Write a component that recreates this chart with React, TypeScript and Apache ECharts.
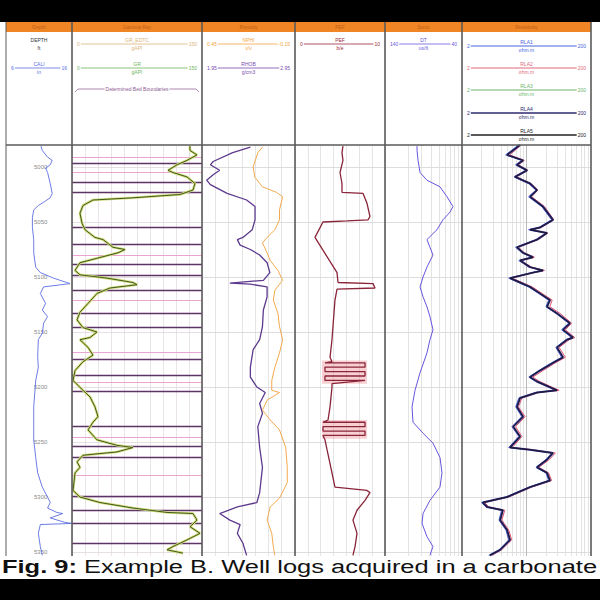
import React, { useEffect, useRef } from "react";
import * as echarts from "echarts";

type P = [number, number];

// ---------------- depth scale (ft) ----------------
const DEPTH_TOP = 4980;
const DEPTH_BOTTOM = 5353.6;
const DEPTH_TICKS = [5000, 5050, 5100, 5150, 5200, 5250, 5300, 5350];

// Track 1: caliper [in, depth ft]
const CALI: P[] = [[11.3,4981],[11.5,4985],[12.3,4991],[13.0,4994],[12.7,4998],[12.0,5001],[12.3,5005],[12.7,5015],[13.0,5024],[12.7,5028],[11.7,5032],[10.9,5035],[10.2,5039],[10.0,5046],[10.0,5055],[10.2,5066],[10.2,5078],[10.5,5091],[11.2,5096],[13.2,5101],[15.2,5105],[15.7,5106],[11.7,5109],[11.2,5115],[12.0,5124],[11.5,5130],[12.3,5136],[11.7,5142],[11.5,5151],[10.9,5157],[10.8,5173],[10.9,5182],[10.5,5194],[10.2,5218],[10.2,5236],[10.2,5248],[10.5,5264],[10.8,5278],[11.5,5291],[12.3,5300],[12.7,5305],[12.3,5310],[13.7,5314],[14.6,5315],[13.2,5318],[12.7,5319],[14.9,5323],[16.0,5324],[11.2,5325],[10.9,5333],[11.2,5345],[11.5,5353]];

// Track 2: gamma ray [gAPI, depth ft]
const GR: P[] = [[136,4981],[136.2,4985],[144.2,4989],[132.7,4994],[121.2,4998],[110.8,5003],[116.5,5005],[132.7,5009],[141.9,5015],[139.6,5021],[124.6,5025],[70.4,5028],[24.2,5030],[12.7,5035],[9.2,5042],[11.5,5051],[15.0,5057],[26.5,5064],[35.8,5066],[47.3,5073],[61.2,5075],[53.1,5078],[28.8,5083],[9.2,5087],[3.5,5094],[9.2,5098],[40.4,5101],[70.4,5105],[75.0,5107],[43.8,5110],[28.8,5115],[18.5,5124],[9.2,5132],[5.8,5139],[12.7,5146],[28.8,5150],[20.8,5155],[9.2,5157],[18.5,5164],[24.2,5171],[12.7,5177],[3.5,5185],[1.2,5194],[12.7,5203],[20.8,5209],[26.5,5218],[30.0,5227],[24.2,5232],[18.5,5239],[28.8,5248],[51.9,5253],[70.4,5255],[51.9,5259],[12.7,5262],[5.8,5268],[9.2,5273],[3.5,5278],[1.2,5294],[9.2,5300],[32.3,5305],[70.4,5310],[109.6,5314],[139.6,5315],[144.2,5321],[136.2,5327],[147.7,5333],[132.7,5339],[116.5,5345],[109.6,5348],[128.1,5351]];

// Track 2: determined bed boundaries [depth ft]
const BED_MAIN = [4997, 5014, 5023, 5055, 5070, 5088, 5098, 5112, 5133, 5146, 5175, 5189, 5204, 5236, 5254, 5264, 5299, 5312, 5324, 5342];
const BED_MINOR = [4991, 5005, 5080, 5121, 5168, 5196, 5246, 5280];

// Track 3: bulk density [g/cm3, ft] and neutron porosity [v/v, ft]
const RHOB: P[] = [[2.47,4982],[2.28,4987],[2.07,4995],[2.04,4998],[2.14,5003],[2.07,5007],[2.00,5012],[2.04,5016],[2.22,5024],[2.43,5030],[2.52,5036],[2.52,5048],[2.49,5057],[2.39,5064],[2.33,5066],[2.36,5071],[2.47,5075],[2.57,5080],[2.65,5087],[2.68,5096],[2.61,5103],[2.25,5105.5],[2.47,5106.5],[2.65,5109],[2.65,5118],[2.61,5130],[2.60,5145],[2.57,5157],[2.50,5166],[2.47,5182],[2.47,5191],[2.54,5200],[2.63,5205],[2.57,5215],[2.60,5224],[2.55,5236],[2.57,5255],[2.60,5273],[2.57,5296],[2.54,5305],[2.33,5309],[2.14,5315],[2.25,5321],[2.36,5325],[2.33,5333],[2.39,5342],[2.43,5353]];
const NPHI: P[] = [[0.06,4982],[0.09,4987],[0.12,5000],[0.11,5009],[0.06,5018],[-0.03,5023],[-0.07,5027],[-0.05,5039],[-0.05,5048],[-0.02,5057],[0.03,5064],[0.06,5069],[0.03,5078],[0.01,5085],[-0.04,5094],[-0.07,5103],[-0.02,5112],[-0.01,5121],[-0.04,5133],[-0.05,5145],[-0.07,5157],[-0.05,5169],[-0.02,5182],[0.0,5194],[0.0,5203],[-0.05,5205],[0.03,5212],[0.06,5221],[0.01,5230],[-0.05,5239],[-0.09,5255],[-0.10,5273],[-0.10,5287],[-0.05,5301],[0.01,5309],[0.03,5321],[0.0,5333],[-0.01,5345],[-0.02,5353]];

// Track 4: photoelectric factor [b/e, ft]
const PEF: P[] = [[5.33,4981],[5.22,4987],[5.33,4994],[5.0,5005],[5.22,5015],[5.22,5023],[7.56,5024],[8.0,5033],[8.33,5045],[8.11,5048],[5.78,5049],[3.11,5050],[2.22,5064],[4.67,5096],[4.78,5105],[8.67,5106],[8.89,5110],[4.67,5111],[4.44,5121],[4.22,5145],[4.11,5157],[3.89,5173],[4.11,5177],[3.33,5178],[7.78,5178],[7.78,5182],[3.33,5182],[3.33,5186],[7.78,5186],[7.78,5190],[3.33,5190],[3.33,5194],[7.78,5194],[4.11,5197],[4.11,5200],[3.89,5218],[3.67,5230],[3.11,5232],[7.78,5232],[7.78,5236],[3.11,5236],[3.11,5240],[7.78,5240],[7.78,5244],[3.11,5244],[3.33,5248],[3.56,5257],[4.11,5278],[4.44,5291],[8.0,5294],[8.33,5296],[7.78,5303],[6.89,5312],[6.44,5321],[6.89,5333],[6.67,5345],[6.44,5353]];
const PEF_BANDS: P[] = [[5176, 5197], [5230, 5247]];

// Track 5: sonic [us/ft, ft]
const DT: P[] = [[98.4,4981],[98.4,4985],[97.1,4994],[94.5,5005],[85.5,5012],[68.6,5018],[59.5,5027],[51.7,5036],[55.6,5041],[64.7,5048],[72.5,5057],[85.5,5066],[81.6,5073],[77.7,5080],[85.5,5091],[90.6,5100],[94.5,5109],[90.6,5118],[85.5,5127],[81.6,5136],[77.7,5148],[81.6,5157],[85.5,5169],[94.5,5187],[101.0,5203],[104.9,5218],[103.6,5232],[90.6,5242],[77.7,5251],[68.6,5264],[66.0,5278],[68.6,5291],[81.6,5303],[90.6,5315],[91.9,5324],[85.5,5336],[77.7,5345],[81.6,5353]];

// Track 6: array resistivities [ohm.m, ft]
const RES_SHALLOW: P[] = [[15.0,4980],[9.5,4989],[17.0,4994],[13.5,4998],[19.5,5003],[12.8,5009],[21.5,5015],[28.0,5021],[21.5,5027],[34.5,5036],[49.0,5048],[31.0,5055],[21.5,5057],[40.0,5060],[28.0,5066],[13.5,5073],[17.0,5078],[24.0,5082],[15.2,5085],[21.8,5091],[34.5,5094],[24.0,5096],[10.6,5101],[15.0,5105],[21.5,5109],[31.0,5115],[44.0,5121],[40.0,5127],[57.0,5133],[90,5142],[70,5148],[100,5155],[81,5157],[57,5164],[70,5173],[49,5178],[31,5185],[21.7,5191],[27.8,5195],[57,5203],[28,5205],[15.2,5210],[13.6,5218],[16.9,5227],[11.9,5236],[15.2,5245],[10.6,5255],[21.7,5257],[49,5260],[40,5266],[28,5273],[40,5278],[44,5285],[21.7,5291],[9.6,5300],[4.0,5305],[4.7,5309],[8.2,5312],[7.5,5321],[9.6,5330],[10.6,5339],[7.5,5348],[5.2,5353]];
const RES_MEDIUM: P[] = [[16.5,4980],[11.0,4989],[18.5,4994],[15.0,4998],[21.0,5003],[14.0,5009],[23.5,5015],[30.0,5021],[24.0,5027],[38.0,5036],[53.0,5048],[34.0,5055],[24.0,5057],[43.0,5060],[30.5,5066],[15.0,5073],[18.5,5078],[26.5,5082],[16.5,5085],[24.0,5091],[38.0,5094],[26.0,5096],[12.0,5101],[17.0,5105],[24.5,5109],[35.0,5115],[50.0,5121],[46.0,5127],[66.0,5133],[100,5142],[80,5148],[112,5155],[92,5157],[64,5164],[80,5173],[56,5178],[36,5185],[25,5191],[32,5195],[64,5203],[31,5205],[17,5210],[15,5218],[19,5227],[13.5,5236],[17,5245],[12,5255],[25,5257],[56,5260],[45,5266],[31,5273],[44,5278],[49,5285],[24,5291],[10.5,5300],[4.5,5305],[5.2,5309],[9.2,5312],[8.3,5321],[10.6,5330],[11.8,5339],[8.2,5348],[5.8,5353]];
const RES_DEEP: P[] = [[15.9,4980],[10.0,4989],[17.7,4994],[14.2,4998],[20.4,5003],[13.3,5009],[22.7,5015],[29.1,5021],[22.7,5027],[36.1,5036],[51.5,5048],[32.4,5055],[22.7,5057],[41.6,5060],[29.1,5066],[14.2,5073],[17.7,5078],[25.2,5082],[15.9,5085],[22.7,5091],[36.1,5094],[25.2,5096],[11.1,5101],[15.9,5105],[22.7,5109],[32.4,5115],[46.3,5121],[41.6,5127],[59.4,5133],[94.5,5142],[73.6,5148],[105,5155],[84.9,5157],[59.4,5164],[73.6,5173],[51.5,5178],[32.4,5185],[22.7,5191],[29.1,5195],[59.4,5203],[29.1,5205],[15.9,5210],[14.2,5218],[17.7,5227],[12.4,5236],[15.9,5245],[11.1,5255],[22.7,5257],[51.5,5260],[41.6,5266],[29.1,5273],[41.6,5278],[46.3,5285],[22.7,5291],[10.0,5300],[4.2,5305],[4.9,5309],[8.6,5312],[7.8,5321],[10.0,5330],[11.1,5339],[7.8,5348],[5.4,5353]];
const RES_GRID = [4, 6, 8, 10, 12, 14, 16, 18, 40, 60, 80, 100, 120, 140, 160, 180];
const RES_DECADE = [20];

const TRACK_TITLES = ["Depth", "Gamma Ray", "Porosity", "PEF", "Sonic", "Resistivity"];
const CAPTION_BOLD = "Fig. 9:";
const CAPTION_TEXT = " Example B. Well logs acquired in a carbonate";

// ---------------- layout ----------------
const TOP = 145;
const BOTTOM = 556;
const TRACKS: P[] = [[6, 72], [72, 202], [202, 295], [295, 385], [385, 462], [462, 591]];
const FONT = "Liberation Sans";

const HEADER_ROWS = [
  { t: 0, y: 68, label: "CALI", unit: "in", color: "#5b6ee1", lo: "6", hi: "16", w: 0.8 },
  { t: 1, y: 44, label: "GR_EDTC", unit: "gAPI", color: "#d9b37a", lo: "0", hi: "150", w: 0.8 },
  { t: 1, y: 68, label: "GR", unit: "gAPI", color: "#6fb35c", lo: "0", hi: "150", w: 0.8 },
  { t: 2, y: 44, label: "NPHI", unit: "v/v", color: "#f2a444", lo: "0.45", hi: "-0.15", w: 0.8 },
  { t: 2, y: 68, label: "RHOB", unit: "g/cm3", color: "#7a4ab0", lo: "1.95", hi: "2.95", w: 0.8 },
  { t: 3, y: 44, label: "PEF", unit: "b/e", color: "#9c2b3c", lo: "0", hi: "10", w: 0.8 },
  { t: 4, y: 44, label: "DT", unit: "us/ft", color: "#6a5ae0", lo: "140", hi: "40", w: 0.8 },
  { t: 5, y: 46, label: "RLA1", unit: "ohm.m", color: "#4a64e0", lo: "2", hi: "200", w: 1 },
  { t: 5, y: 68, label: "RLA2", unit: "ohm.m", color: "#e06a78", lo: "2", hi: "200", w: 1 },
  { t: 5, y: 90, label: "RLA3", unit: "ohm.m", color: "#6ab46a", lo: "2", hi: "200", w: 1 },
  { t: 5, y: 113, label: "RLA4", unit: "ohm.m", color: "#2c2a70", lo: "2", hi: "200", w: 1.5 },
  { t: 5, y: 135, label: "RLA5", unit: "ohm.m", color: "#222222", lo: "2", hi: "200", w: 1.5 },
];

function small(text: string, x: number, y: number, color: string, align = "center", va = "middle", bg?: string) {
  return {
    type: "text", x, y, z: 120,
    style: { text, fill: color, fontSize: 5, fontFamily: FONT, textAlign: align, textVerticalAlign: va, backgroundColor: bg, padding: bg ? [0, 1] : 0 },
  };
}

function buildGraphic() {
  const g: any[] = [];
  g.push({ type: "rect", z: 130, shape: { x: 0, y: 0, width: 600, height: 22 }, style: { fill: "#000" } });
  g.push({ type: "rect", z: 130, shape: { x: 0, y: 579, width: 600, height: 21 }, style: { fill: "#000" } });
  g.push({ type: "rect", z: 100, shape: { x: 6, y: 22, width: 585, height: 10 }, style: { fill: "#ef8524" } });
  TRACKS.forEach(([l, r], i) => {
    g.push({ type: "text", x: (l + r) / 2, y: 27, z: 105, style: { text: TRACK_TITLES[i], fill: "#c0601a", fontSize: 5, fontFamily: FONT, textAlign: "center", textVerticalAlign: "middle" } });
  });
  const borders = [6, 72, 202, 295, 385, 462, 591];
  borders.forEach((x, i) => {
    g.push({ type: "line", z: 110, shape: { x1: x, y1: 22, x2: x, y2: BOTTOM }, style: { stroke: "#5a5a5a", lineWidth: i === 0 ? 1 : 1.6 } });
  });
  g.push({ type: "line", z: 110, shape: { x1: 6, y1: TOP, x2: 591, y2: TOP }, style: { stroke: "#5a5a5a", lineWidth: 1.6 } });

  // depth header
  g.push(small("DEPTH", 39, 40, "#333"));
  g.push(small("ft", 39, 48, "#333"));

  HEADER_ROWS.forEach((h) => {
    const [l, r] = TRACKS[h.t];
    const cx = (l + r) / 2;
    g.push({ type: "line", z: 115, shape: { x1: l + 4, y1: h.y, x2: r - 4, y2: h.y }, style: { stroke: h.color, lineWidth: h.w } });
    g.push(small(h.label, cx, h.y - 1.5, h.color, "center", "bottom", "#fff"));
    g.push(small(h.unit, cx, h.y + 1.5, h.color, "center", "top", "#fff"));
    g.push(small(h.lo, l + 4, h.y, h.color, "left", "middle", "#fff"));
    g.push(small(h.hi, r - 4, h.y, h.color, "right", "middle", "#fff"));
  });
  // bed boundary bracket in track 2
  g.push({ type: "polyline", z: 115, shape: { points: [[75, 92], [78, 89], [196, 89], [199, 92]] }, style: { stroke: "#9a6aa0", lineWidth: 0.8, fill: null } });
  g.push(small("Determined Bed Boundaries", 137, 89, "#8a5a90", "center", "middle", "#fff"));

  // caption
  g.push({
    type: "text", x: 2, y: 557, z: 140, scaleX: 1.34,
    style: {
      text: "{b|" + CAPTION_BOLD + "}" + CAPTION_TEXT,
      fill: "#111", fontSize: 19, fontFamily: FONT, textAlign: "left", textVerticalAlign: "top",
      rich: { b: { fontWeight: "bold", fontSize: 19, fontFamily: FONT, fill: "#111" } },
    },
  });
  return g;
}

const mlBase = { silent: true, symbol: ["none", "none"], label: { show: false }, z: 1, animation: false, emphasis: { disabled: true } };
const hLines = (color = "#d4d4d4") => DEPTH_TICKS.map((d) => ({ yAxis: d, lineStyle: { color, width: 0.8, type: "solid" } }));
const hidden = { show: false };

function line(name: string, x: number, y: number, data: P[], color: string, width: number, extra: any = {}) {
  return { type: "line", name, xAxisIndex: x, yAxisIndex: y, data, symbol: "none", showSymbol: false, silent: true, clip: true, lineStyle: { color, width }, z: 3, ...extra };
}

function buildOption(): any {
  const helperX = (grid: number, max: number) => ({
    gridIndex: grid, type: "value", min: 0, max, interval: 1, show: true,
    axisLine: hidden, axisTick: hidden, axisLabel: hidden,
    splitLine: { show: true, lineStyle: { color: "#dedede", width: 0.8 } },
  });
  const dtGrid = [2, 3, 4, 5, 6, 7, 8, 9].map((k) => ({ xAxis: 140 - 100 * Math.log10(k), lineStyle: { color: "#dcdcdc", width: 0.8, type: "solid" } }));
  return {
    animation: false,
    backgroundColor: "#fff",
    textStyle: { fontFamily: FONT },
    grid: TRACKS.map(([l, r]) => ({ left: l, top: TOP, width: r - l, height: BOTTOM - TOP, containLabel: false, outerBoundsMode: "none", show: false })),
    yAxis: TRACKS.map((_, i) => ({
      gridIndex: i, type: "value", min: DEPTH_TOP, max: DEPTH_BOTTOM, inverse: true, interval: 10, show: i === 0,
      axisLine: hidden, axisTick: hidden, splitLine: hidden,
      axisLabel: {
        show: i === 0, inside: true, margin: 28, fontSize: 6, color: "#8a8a8a", fontFamily: FONT,
        formatter: (v: number) => (Math.abs(v % 50) < 1e-6 ? String(v) : ""),
      },
    })),
    xAxis: [
      { gridIndex: 0, type: "value", min: 6, max: 16, show: false },
      {
        gridIndex: 1, type: "value", min: 0, max: 150, interval: 15, show: true,
        axisLine: hidden, axisTick: hidden, axisLabel: hidden,
        splitLine: { show: true, lineStyle: { color: "#e4dce4", width: 0.8 } },
      },
      { gridIndex: 2, type: "value", min: 1.95, max: 2.95, show: false },
      { gridIndex: 2, type: "value", min: -0.15, max: 0.45, inverse: true, show: false },
      helperX(2, 7),
      { gridIndex: 3, type: "value", min: 0, max: 10, show: false },
      helperX(3, 7),
      { gridIndex: 4, type: "value", min: 40, max: 140, inverse: true, show: false },
      { gridIndex: 5, type: "log", logBase: 10, min: 2, max: 200, show: false },
    ],
    series: [
      line("CALI", 0, 0, CALI, "#5b6ee1", 0.9),
      line("GR_glow", 1, 1, GR, "#d5da7e", 2.6, { z: 2 }),
      line("GR", 1, 1, GR, "#3c5c1c", 1.0, {
        markLine: {
          ...mlBase,
          data: [
            ...hLines("#e0d8e0"),
            ...BED_MINOR.map((d) => ({ yAxis: d, lineStyle: { color: "#e9a6d2", width: 1.1, type: "solid" } })),
            ...BED_MAIN.map((d) => ({ yAxis: d, lineStyle: { color: "#5e3466", width: 1.4, type: "solid" } })),
          ],
        },
      }),
      line("RHOB", 2, 2, RHOB, "#5d3a8e", 1.3, { markLine: { ...mlBase, data: hLines() } }),
      line("NPHI", 3, 2, NPHI, "#f3a94e", 1.0),
      line("PEF", 5, 3, PEF, "#8a2438", 1.3, {
        markLine: { ...mlBase, data: hLines() },
        markArea: {
          silent: true, z: 1,
          itemStyle: { color: "rgba(236,120,130,0.35)" },
          data: PEF_BANDS.map(([a, b]) => [{ xAxis: 3.0, yAxis: a }, { xAxis: 8.0, yAxis: b }]),
        },
      }),
      line("DT", 7, 4, DT, "#6455de", 1.0, { markLine: { ...mlBase, data: [...hLines(), ...dtGrid] } }),
      line("RLA1", 8, 5, RES_SHALLOW, "#4a64e0", 1.0, {
        markLine: {
          ...mlBase,
          data: [
            ...hLines(),
            ...RES_GRID.map((v) => ({ xAxis: v, lineStyle: { color: "#dcdcdc", width: 0.8, type: "solid" } })),
            ...RES_DECADE.map((v) => ({ xAxis: v, lineStyle: { color: "#b8b8b8", width: 1, type: "solid" } })),
          ],
        },
      }),
      line("RLA2", 8, 5, RES_MEDIUM, "#e0506a", 1.0),
      line("RLA4", 8, 5, RES_DEEP, "#2e2a78", 2.0),
      line("RLA5", 8, 5, RES_DEEP, "#111111", 0.7),
    ],
    graphic: buildGraphic(),
  };
}

export default function App() {
  const ref = useRef<HTMLDivElement>(null);
  useEffect(() => {
    document.body.style.margin = "0";
    const chart = echarts.init(ref.current as HTMLDivElement, null, { renderer: "svg", width: 600, height: 600 });
    chart.setOption(buildOption());
    return () => chart.dispose();
  }, []);
  return <div ref={ref} style={{ width: 600, height: 600 }} />;
}
